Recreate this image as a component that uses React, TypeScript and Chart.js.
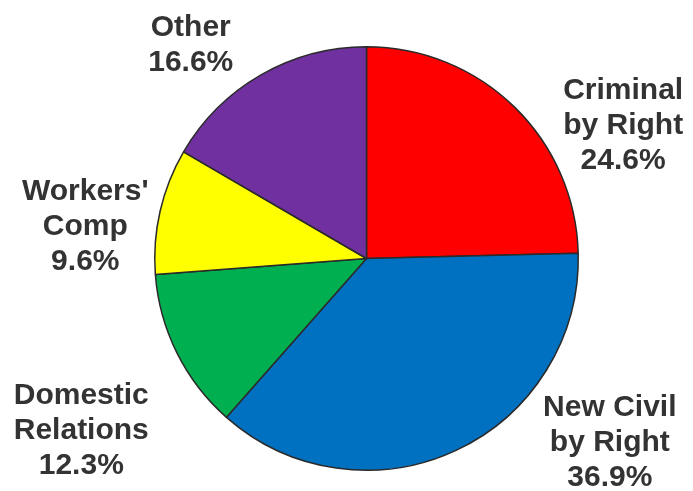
import React, { useEffect, useRef } from "react";
import { Chart, registerables } from "chart.js";

Chart.register(...registerables);

const categories: string[][] = [
  ["Criminal", "by Right"],
  ["New Civil", "by Right"],
  ["Domestic", "Relations"],
  ["Workers'", "Comp"],
  ["Other"],
];
const shares: number[] = [24.6, 36.9, 12.3, 9.6, 16.6];
const colors: string[] = ["#FF0000", "#0070C0", "#00B050", "#FFFF00", "#7030A0"];
// label block centre, relative to pie centre, in units of the pie radius
const labelOffsets: [number, number][] = [
  [1.212, -0.634],
  [1.149, 0.866],
  [-1.347, 0.811],
  [-1.328, -0.153],
  [-0.83, -1.012],
];

const labelPlugin = {
  id: "pieLabels",
  afterDatasetsDraw(chart: any) {
    const ctx = chart.ctx;
    const meta = chart.getDatasetMeta(0);
    const lineH = 35;
    ctx.save();
    ctx.font = "bold 30px 'Liberation Sans', Arial, sans-serif";
    ctx.fillStyle = "#333333";
    ctx.textAlign = "center";
    ctx.textBaseline = "middle";
    meta.data.forEach((arc: any, i: number) => {
      const r = arc.outerRadius;
      const cx = arc.x + labelOffsets[i][0] * r;
      const cy = arc.y + labelOffsets[i][1] * r;
      const lines = [...categories[i], shares[i].toFixed(1) + "%"];
      const top = cy - ((lines.length - 1) * lineH) / 2;
      lines.forEach((t, k) => ctx.fillText(t, cx, top + k * lineH + 1));
    });
    ctx.restore();
  },
};

export default function App() {
  const ref = useRef<HTMLCanvasElement | null>(null);
  useEffect(() => {
    document.body.style.margin = "0";
    const chart = new Chart(ref.current as HTMLCanvasElement, {
      type: "pie",
      data: {
        labels: categories.map((c) => c.join(" ")),
        datasets: [
          {
            data: shares,
            backgroundColor: colors,
            borderColor: "#2a2a2a",
            borderWidth: 1.5,
          },
        ],
      },
      options: {
        animation: false,
        responsive: false,
        maintainAspectRatio: false,
        layout: { padding: { top: 46, bottom: 20, left: 154, right: 114 } },
        plugins: {
          legend: { display: false },
          tooltip: { enabled: false },
          title: { display: false },
        },
      },
      plugins: [labelPlugin],
    });
    return () => chart.destroy();
  }, []);
  return (
    <div style={{ width: 693, height: 491, background: "#fff" }}>
      <canvas ref={ref} width={693} height={491} style={{ display: "block" }} />
    </div>
  );
}
